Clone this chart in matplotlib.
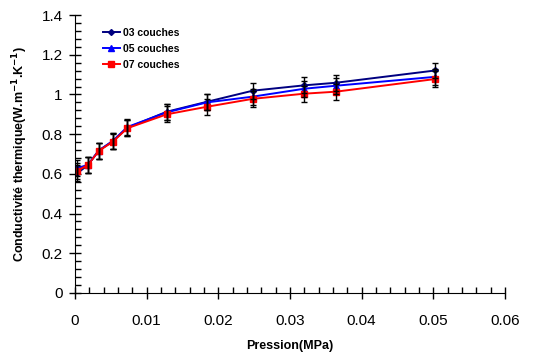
import matplotlib
matplotlib.use("Agg")
from matplotlib import pyplot as plt
from matplotlib.ticker import MultipleLocator

plt.rcParams['font.family'] = ['Liberation Sans', 'DejaVu Sans']
plt.rcParams['mathtext.default'] = 'bf'

pression = [0.0003, 0.0018, 0.0033, 0.0053, 0.0073, 0.0128, 0.0184,
            0.0248, 0.0320, 0.0364, 0.0503]
couches_03 = [0.603, 0.644, 0.717, 0.765, 0.832, 0.913, 0.963, 1.019, 1.046, 1.059, 1.121]
couches_05 = [0.628, 0.646, 0.717, 0.767, 0.836, 0.910, 0.960, 0.989, 1.029, 1.044, 1.089]
couches_07 = [0.616, 0.644, 0.715, 0.763, 0.830, 0.900, 0.938, 0.978, 1.004, 1.014, 1.078]
erreur = 0.04

labels = ["03 couches", "05 couches", "07 couches"]
xticks = [0, 0.01, 0.02, 0.03, 0.04, 0.05, 0.06]
xtick_labels = ["0", "0.01", "0.02", "0.03", "0.04", "0.05", "0.06"]
yticks = [0, 0.2, 0.4, 0.6, 0.8, 1.0, 1.2, 1.4]
ytick_labels = ["0", "0.2", "0.4", "0.6", "0.8", "1", "1.2", "1.4"]

fig = plt.figure(figsize=(5.37, 3.59), dpi=100)
ax = fig.add_axes([0.1397, 0.184, 0.8007, 0.774])

series = [
    (couches_03, "#000080", "D", 3),
    (couches_05, "#0000FF", "^", 4),
    (couches_07, "#FF0000", "s", 4),
]
for (y, color, marker, ms), lab in zip(series, labels):
    ax.errorbar(pression, y, yerr=erreur, fmt="none", ecolor="black",
                elinewidth=1, capsize=2, capthick=1, zorder=3)
    ax.plot(pression, y, color=color, marker=marker, ms=ms, lw=1.4,
            label=lab, zorder=2)

ax.set_xlim(0, 0.06)
ax.set_ylim(0, 1.4)
ax.set_xticks(xticks)
ax.set_xticklabels(xtick_labels)
ax.set_yticks(yticks)
ax.set_yticklabels(ytick_labels)
ax.xaxis.set_minor_locator(MultipleLocator(0.002))
ax.yaxis.set_minor_locator(MultipleLocator(0.04))

ax.spines["top"].set_visible(False)
ax.spines["right"].set_visible(False)
ax.tick_params(which="major", direction="inout", length=8, width=1,
               labelsize=11)
ax.tick_params(axis="x", which="major", pad=11)
ax.tick_params(axis="y", which="major", pad=5)
ax.tick_params(which="minor", direction="in", length=4, width=1)

ax.set_xlabel("Pression(MPa)", fontsize=9, fontweight="bold", labelpad=9)
ax.set_ylabel(r"Conductivité thermique(W.m$^{-1}$.K$^{-1}$)", fontsize=9,
              fontweight="bold", labelpad=8)

ax.legend(loc="upper left", bbox_to_anchor=(0.055, 0.97), frameon=False,
          prop={"size": 7.5, "weight": "bold"}, handlelength=1.6,
          handletextpad=0.3, labelspacing=0.6, borderaxespad=0)

fig.savefig("out.png", dpi=100)
